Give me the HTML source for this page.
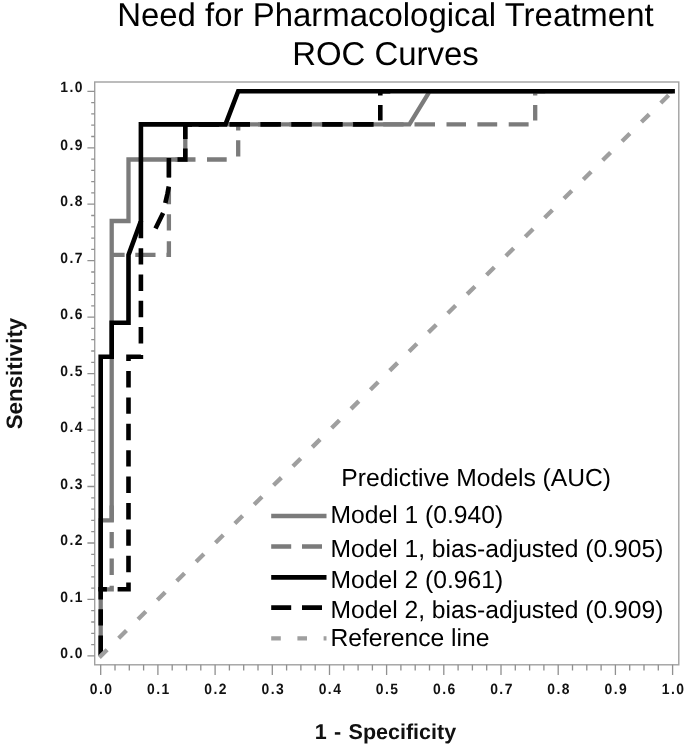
<!DOCTYPE html>
<html><head><meta charset="utf-8"><title>ROC Curves</title>
<style>
html,body{margin:0;padding:0;background:#fff;}
svg{display:block;filter:blur(0.4px);}
text{font-family:"Liberation Sans",Arial,sans-serif;fill:#000;text-rendering:geometricPrecision;}
.t{font-size:32.95px;text-anchor:middle;}
.lg{font-size:24.65px;}
.tk{font-size:13.9px;font-weight:bold;fill:#111;letter-spacing:1.45px;}
.ax{font-size:21.5px;word-spacing:1.4px;font-weight:bold;text-anchor:middle;fill:#111;}
</style></head><body>
<svg width="685" height="755" viewBox="0 0 685 755">
<rect width="685" height="755" fill="#fff"/>
<text class="t" x="385.4" y="26">Need for Pharmacological Treatment</text>
<text class="t" x="385.5" y="65">ROC Curves</text>
<rect x="94.7" y="82.0" width="584.1" height="582.8" fill="none" stroke="#a0a0a0" stroke-width="1.4"/>
<path d="M100.7 664.8 V675.0 M115.0 664.8 V670.5 M129.3 664.8 V670.5 M143.6 664.8 V670.5 M157.9 664.8 V675.0 M172.2 664.8 V670.5 M186.5 664.8 V670.5 M200.8 664.8 V670.5 M215.1 664.8 V675.0 M229.4 664.8 V670.5 M243.7 664.8 V670.5 M258.0 664.8 V670.5 M272.3 664.8 V675.0 M286.6 664.8 V670.5 M300.9 664.8 V670.5 M315.2 664.8 V670.5 M329.5 664.8 V675.0 M343.8 664.8 V670.5 M358.1 664.8 V670.5 M372.4 664.8 V670.5 M386.6 664.8 V675.0 M400.9 664.8 V670.5 M415.2 664.8 V670.5 M429.5 664.8 V670.5 M443.8 664.8 V675.0 M458.1 664.8 V670.5 M472.4 664.8 V670.5 M486.7 664.8 V670.5 M501.0 664.8 V675.0 M515.3 664.8 V670.5 M529.6 664.8 V670.5 M543.9 664.8 V670.5 M558.2 664.8 V675.0 M572.5 664.8 V670.5 M586.8 664.8 V670.5 M601.1 664.8 V670.5 M615.4 664.8 V675.0 M629.7 664.8 V670.5 M644.0 664.8 V670.5 M658.3 664.8 V670.5 M672.6 664.8 V675.0 M94.7 655.9 H87.4 M94.7 644.6 H91.2 M94.7 633.3 H91.2 M94.7 622.0 H91.2 M94.7 610.7 H91.2 M94.7 599.4 H87.4 M94.7 588.1 H91.2 M94.7 576.9 H91.2 M94.7 565.6 H91.2 M94.7 554.3 H91.2 M94.7 543.0 H87.4 M94.7 531.7 H91.2 M94.7 520.4 H91.2 M94.7 509.1 H91.2 M94.7 497.8 H91.2 M94.7 486.5 H87.4 M94.7 475.2 H91.2 M94.7 463.9 H91.2 M94.7 452.6 H91.2 M94.7 441.4 H91.2 M94.7 430.1 H87.4 M94.7 418.8 H91.2 M94.7 407.5 H91.2 M94.7 396.2 H91.2 M94.7 384.9 H91.2 M94.7 373.6 H87.4 M94.7 362.3 H91.2 M94.7 351.0 H91.2 M94.7 339.7 H91.2 M94.7 328.4 H91.2 M94.7 317.1 H87.4 M94.7 305.8 H91.2 M94.7 294.6 H91.2 M94.7 283.3 H91.2 M94.7 272.0 H91.2 M94.7 260.7 H87.4 M94.7 249.4 H91.2 M94.7 238.1 H91.2 M94.7 226.8 H91.2 M94.7 215.5 H91.2 M94.7 204.2 H87.4 M94.7 192.9 H91.2 M94.7 181.6 H91.2 M94.7 170.3 H91.2 M94.7 159.1 H91.2 M94.7 147.8 H87.4 M94.7 136.5 H91.2 M94.7 125.2 H91.2 M94.7 113.9 H91.2 M94.7 102.6 H91.2 M94.7 91.3 H87.4" stroke="#909090" stroke-width="1.3" fill="none"/>
<text class="tk" transform="translate(101.7 694.2) scale(1 1.07)" text-anchor="middle">0.0</text>
<text class="tk" transform="translate(158.9 694.2) scale(1 1.07)" text-anchor="middle">0.1</text>
<text class="tk" transform="translate(216.1 694.2) scale(1 1.07)" text-anchor="middle">0.2</text>
<text class="tk" transform="translate(273.3 694.2) scale(1 1.07)" text-anchor="middle">0.3</text>
<text class="tk" transform="translate(330.5 694.2) scale(1 1.07)" text-anchor="middle">0.4</text>
<text class="tk" transform="translate(387.6 694.2) scale(1 1.07)" text-anchor="middle">0.5</text>
<text class="tk" transform="translate(444.8 694.2) scale(1 1.07)" text-anchor="middle">0.6</text>
<text class="tk" transform="translate(502.0 694.2) scale(1 1.07)" text-anchor="middle">0.7</text>
<text class="tk" transform="translate(559.2 694.2) scale(1 1.07)" text-anchor="middle">0.8</text>
<text class="tk" transform="translate(616.4 694.2) scale(1 1.07)" text-anchor="middle">0.9</text>
<text class="tk" transform="translate(673.6 694.2) scale(1 1.07)" text-anchor="middle">1.0</text>
<text class="tk" transform="translate(84.0 658.1) scale(1 1.07)" text-anchor="end">0.0</text>
<text class="tk" transform="translate(84.0 601.6) scale(1 1.07)" text-anchor="end">0.1</text>
<text class="tk" transform="translate(84.0 545.2) scale(1 1.07)" text-anchor="end">0.2</text>
<text class="tk" transform="translate(84.0 488.7) scale(1 1.07)" text-anchor="end">0.3</text>
<text class="tk" transform="translate(84.0 432.3) scale(1 1.07)" text-anchor="end">0.4</text>
<text class="tk" transform="translate(84.0 375.8) scale(1 1.07)" text-anchor="end">0.5</text>
<text class="tk" transform="translate(84.0 319.3) scale(1 1.07)" text-anchor="end">0.6</text>
<text class="tk" transform="translate(84.0 262.9) scale(1 1.07)" text-anchor="end">0.7</text>
<text class="tk" transform="translate(84.0 206.4) scale(1 1.07)" text-anchor="end">0.8</text>
<text class="tk" transform="translate(84.0 150.0) scale(1 1.07)" text-anchor="end">0.9</text>
<text class="tk" transform="translate(84.0 91.9) scale(1 1.07)" text-anchor="end">1.0</text>
<path d="M100.7 655.9 L100.7 520.4 L111.7 520.4 L111.7 221.0 L128.5 221.0 L128.5 159.5 L185.3 159.5 L185.3 124.4 L409.4 124.4 L429.6 91.3 L672.6 91.3" stroke="#7b7b7b" stroke-width="4.3" fill="none"/>
<path d="M100.7 591.0 L100.7 589.3 L111.7 589.3 L111.7 585.8 M111.7 575.0 L111.7 558.5 M111.7 548.3 L111.7 532.0 M111.7 521.8 L111.7 505.4 M111.7 254.9 L124.6 254.9 M135.3 254.9 L155.5 254.9 M166.4 254.9 L168.9 254.9 L168.9 241.2 M168.9 230.5 L168.9 214.3 M168.9 204.3 L168.9 188.0 M168.9 178.0 L168.9 161.6 M175.5 159.5 L195.5 159.5 M207.0 159.5 L226.7 159.5 M238.2 156.5 L238.2 140.3 M238.2 130.4 L238.2 124.4 L250.0 124.4 M383.2 124.4 L403.5 124.4 M351.9 124.4 L372.2 124.4 M320.6 124.4 L340.9 124.4 M289.3 124.4 L309.6 124.4 M258.0 124.4 L278.3 124.4 M414.5 124.4 L435.0 124.4 M446.5 124.4 L466.0 124.4 M477.4 124.4 L497.2 124.4 M508.7 124.4 L528.6 124.4 M535.2 120.6 L535.2 105.0 M535.2 95.6 L535.2 91.3 L545.2 91.3" stroke="#7b7b7b" stroke-width="4.3" fill="none"/>
<path d="M100.7 589.3 L100.7 356.7 L111.7 356.7 L111.7 322.8 L128.5 322.8 L128.5 254.9 L140.9 221.0 L140.9 124.4 L225.5 124.4 L238.2 91.3 L672.6 91.3" stroke="#000" stroke-width="4.6" fill="none" stroke-linecap="square"/>
<path d="M100.7 655.9 L100.7 635.5 M100.7 625.4 L100.7 609.2 M100.7 599.5 L100.7 589.3 L106.9 589.3 M117.6 589.3 L128.5 589.3 L128.5 582.5 M128.5 572.2 L128.5 555.8 M128.5 545.8 L128.5 529.4 M128.5 519.4 L128.5 503.0 M128.5 493.0 L128.5 476.6 M128.5 466.6 L128.5 450.2 M128.5 440.2 L128.5 423.8 M128.5 413.8 L128.5 397.4 M128.5 387.4 L128.5 371.0 M128.5 361.0 L128.5 356.7 L140.9 356.7 L140.9 355.0 M140.9 343.5 L140.9 327.1 M140.9 317.2 L140.9 300.8 M140.9 290.9 L140.9 274.5 M140.9 264.4 L140.9 248.2 M140.9 238.2 L140.9 221.0 M155.5 228.4 L163.1 213.1 M165.3 202.9 L167.5 193.5 L168.8 186.5 M168.9 177.2 L168.9 158.0 M177.5 159.5 L185.3 159.5 L185.3 148.6 M185.3 139.0 L185.3 124.4 L192.0 124.4 M198.6 124.4 L219.1 124.4 M229.5 124.4 L250.0 124.4 M260.4 124.4 L280.9 124.4 M291.3 124.4 L311.8 124.4 M322.2 124.4 L342.7 124.4 M353.1 124.4 L373.6 124.4 M380.3 120.5 L380.3 105.0 M380.3 95.6 L380.3 91.3 L390.3 91.3" stroke="#000" stroke-width="4.6" fill="none"/>
<path d="M99.3 657.4 L672.6 91.3" stroke="#9f9f9f" stroke-width="4.3" fill="none" stroke-dasharray="11 16.21"/>
<text class="lg" x="341.3" y="486">Predictive Models (AUC)</text>
<path d="M271.2 515.9 H326.5" stroke="#7b7b7b" stroke-width="4.5" fill="none"/>
<text class="lg" x="330.5" y="523.2">Model 1 (0.940)</text>
<path d="M271.2 546.5 H326.5" stroke="#7b7b7b" stroke-width="4.5" stroke-dasharray="20 10.8" fill="none"/>
<text class="lg" x="330.5" y="556.5">Model 1, bias-adjusted (0.905)</text>
<path d="M271.2 577.3 H326.5" stroke="#000" stroke-width="4.7" fill="none"/>
<text class="lg" x="330.5" y="588.4">Model 2 (0.961)</text>
<path d="M271.2 607.7 H326.5" stroke="#000" stroke-width="4.7" stroke-dasharray="20 10.8" fill="none"/>
<text class="lg" x="330.5" y="617.6">Model 2, bias-adjusted (0.909)</text>
<path d="M271.2 638.3 H326.5" stroke="#9f9f9f" stroke-width="4.3" stroke-dasharray="9.6 16.6" fill="none"/>
<text class="lg" x="330.5" y="645.9">Reference line</text>
<text class="ax" x="385.4" y="738.5">1 - Specificity</text>
<text class="ax" transform="translate(22.3 373.5) rotate(-90)" style="font-size:22.3px;word-spacing:0">Sensitivity</text>
</svg>
</body></html>
